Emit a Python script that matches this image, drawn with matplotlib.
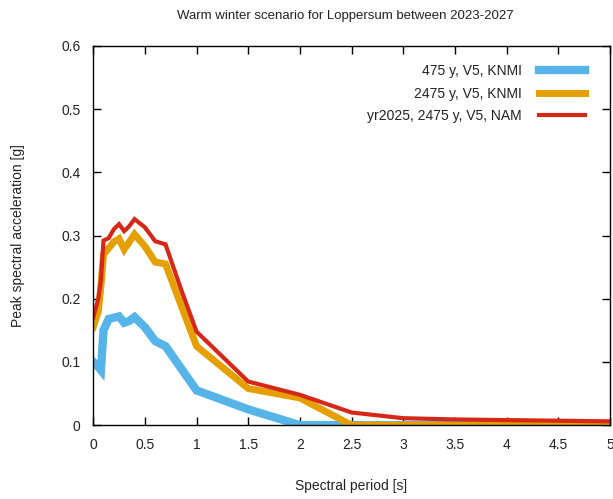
import numpy as np
import matplotlib
matplotlib.use('Agg')
from matplotlib import pyplot as plt

# Spectral periods (s) and peak spectral acceleration (g)
period = [0, 0.05, 0.075, 0.1, 0.15, 0.2, 0.25, 0.3, 0.35, 0.4, 0.5, 0.6, 0.7, 0.85,
          1.0, 1.5, 2.0, 2.5, 3.0, 3.5, 4.0, 4.5, 5.0]
knmi_475 = [0.10, 0.092, 0.087, 0.15, 0.168, 0.17, 0.172, 0.162, 0.165, 0.171, 0.155,
            0.133, 0.125, 0.09, 0.055, 0.025, 0.0, 0.0, 0.0, 0.0, 0.0, 0.0, 0.0]
knmi_2475 = [0.155, 0.18, 0.22, 0.27, 0.28, 0.29, 0.295, 0.278, 0.29, 0.302, 0.283,
             0.258, 0.255, 0.19, 0.125, 0.058, 0.043, 0.0, 0.0, 0.0, 0.0, 0.0, 0.0]
nam_2475 = [0.17, 0.2, 0.23, 0.292, 0.296, 0.31, 0.318, 0.307, 0.315, 0.326, 0.313,
            0.291, 0.286, 0.215, 0.148, 0.069, 0.048, 0.02, 0.011, 0.009, 0.008,
            0.007, 0.006]

labels = ['475 y, V5, KNMI', '2475 y, V5, KNMI', 'yr2025, 2475 y, V5, NAM']
colors = ['#56b4e9', '#e69f00', '#d62718']
widths = [6.0, 5.0, 3.0]

plt.rcParams['font.family'] = ['Liberation Sans', 'DejaVu Sans']
txt = '#222222'

fig = plt.figure(figsize=(6.13, 4.99), dpi=100)
ax = fig.add_axes([0.152, 0.148, 0.843, 0.76])

for y, lab, c, w in zip([knmi_475, knmi_2475, nam_2475], labels, colors, widths):
    ax.plot(period, y, color=c, lw=w, label=lab, solid_joinstyle='miter')

ax.set_xlim(0, 5)
ax.set_ylim(0, 0.6)
ax.set_xticks(np.arange(0, 5.01, 0.5))
ax.set_xticklabels(['0', '0.5', '1', '1.5', '2', '2.5', '3', '3.5', '4', '4.5', '5'])
ax.set_yticks(np.arange(0, 0.61, 0.1))
ax.set_yticklabels(['0', '0.1', '0.2', '0.3', '0.4', '0.5', '0.6'])
ax.tick_params(direction='in', top=True, right=True, length=6, width=1,
               labelsize=10, labelcolor=txt, pad=9)
for s in ax.spines.values():
    s.set_linewidth(1)

ax.set_xlabel('Spectral period [s]', fontsize=10, color=txt, labelpad=20)
ax.set_ylabel('Peak spectral acceleration [g]', fontsize=10, color=txt, labelpad=26)
fig.suptitle('Warm winter scenario for Loppersum between 2023-2027',
             fontsize=9.5, color=txt, x=0.563, y=0.979)

leg = ax.legend(loc='upper right', frameon=False, fontsize=10, markerfirst=False,
                handlelength=3.3, handletextpad=1.2, labelspacing=0.62,
                bbox_to_anchor=(0.975, 0.985))
for t in leg.get_texts():
    t.set_color(txt)
    t.set_ha('right')

plt.savefig('out.png', dpi=100)
